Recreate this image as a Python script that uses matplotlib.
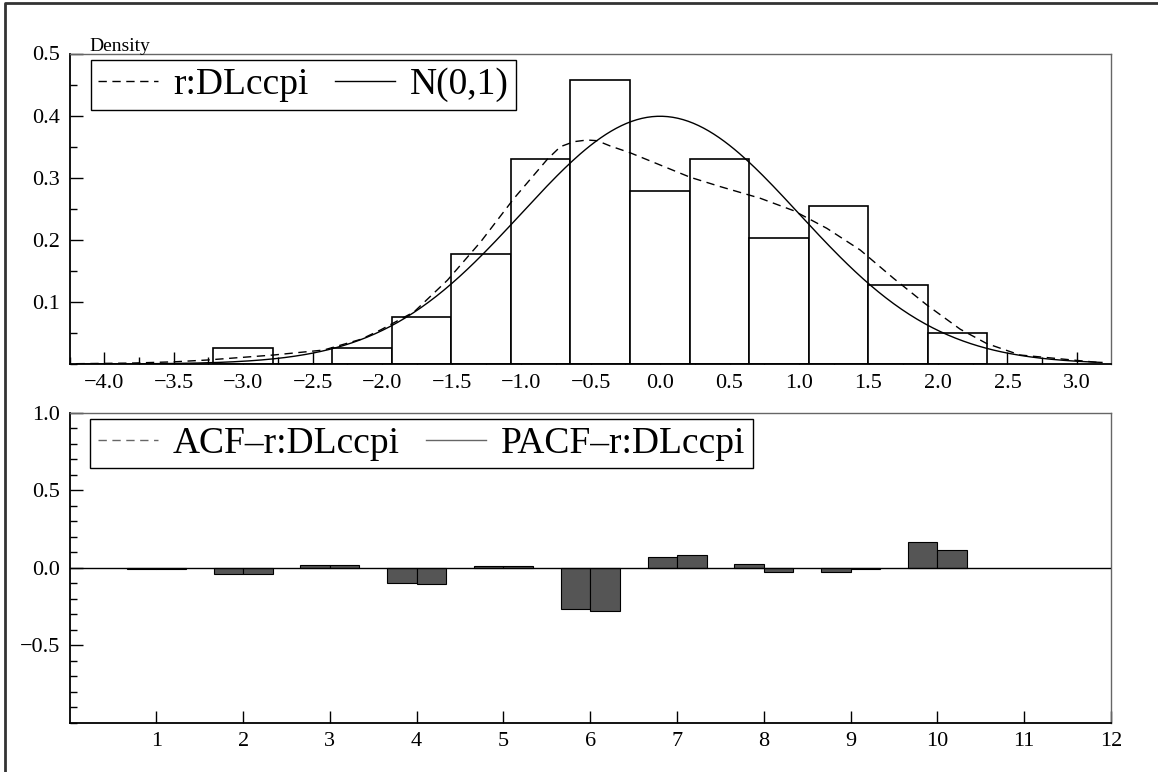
import numpy as np
import matplotlib
matplotlib.use("Agg")
import matplotlib.pyplot as plt
from matplotlib.lines import Line2D
from matplotlib.ticker import MultipleLocator, FixedLocator

plt.rcParams['font.family'] = ['Liberation Serif', 'DejaVu Serif']
plt.rcParams['axes.unicode_minus'] = True

# histogram of r:DLccpi (density scale)
bin_edges = [-3.216, -2.788, -2.359, -1.931, -1.502, -1.073, -0.645,
             -0.216, 0.212, 0.641, 1.069, 1.498, 1.926, 2.355]
bin_density = [0.0254, 0.0, 0.0254, 0.0761, 0.1776, 0.3298, 0.4566,
               0.2790, 0.3298, 0.2029, 0.2537, 0.1268, 0.0507]

# kernel density estimate (dashed)
kde_x = [-4.2, -3.8, -3.5, -3.26, -2.78, -2.42, -2.15, -2.01, -1.77, -1.53,
         -1.29, -1.05, -0.81, -0.717, -0.62, -0.525, -0.453, -0.358, -0.214,
         0.0, 0.218, 0.434, 0.722, 0.96, 1.2, 1.44, 1.68, 1.92, 2.16, 2.35,
         2.59, 2.97, 3.18]
kde_y = [0.0005, 0.0015, 0.0035, 0.0064, 0.0145, 0.0225, 0.040, 0.055,
         0.084, 0.135, 0.197, 0.267, 0.330, 0.350, 0.358, 0.3607, 0.3596,
         0.351, 0.340, 0.3205, 0.3006, 0.2856, 0.2668, 0.247, 0.2185,
         0.1836, 0.138, 0.095, 0.056, 0.033, 0.0145, 0.0064, 0.002]

# N(0,1) reference density over the same range
norm_x = np.linspace(-4.2, 3.18, 400)
norm_y = np.exp(-norm_x ** 2 / 2) / np.sqrt(2 * np.pi)

# correlogram
lags = [1, 2, 3, 4, 5, 6, 7, 8, 9, 10]
acf = [-0.011, -0.039, 0.017, -0.101, 0.013, -0.264, 0.068, 0.023, -0.026, 0.167]
pacf = [-0.011, -0.040, 0.017, -0.105, 0.012, -0.277, 0.079, -0.026, -0.007, 0.116]

W, H = 1158, 772
fig = plt.figure(figsize=(W / 100, H / 100), dpi=100)

# outer frame (top and left only)
fig.add_artist(Line2D([5 / W, 5 / W, 1.0], [0.0, 1 - 3 / H, 1 - 3 / H],
                      color='#333333', lw=2, transform=fig.transFigure))

ax1 = fig.add_axes([69.5 / W, 1 - 364 / H, 1041.5 / W, 310.5 / H])
ax2 = fig.add_axes([69.5 / W, 1 - 722.7 / H, 1041.5 / W, 310 / H])


def style_axes(ax):
    for s in ['left', 'bottom']:
        ax.spines[s].set_color('black')
        ax.spines[s].set_linewidth(1.3)
    for s in ['top', 'right']:
        ax.spines[s].set_color('#666666')
        ax.spines[s].set_linewidth(1.0)
    ax.tick_params(which='both', direction='in', top=False, right=False,
                   labelsize=16, pad=7, width=1, color='black')
    ax.tick_params(which='major', length=9)
    ax.tick_params(which='minor', length=5)


# ---- top: density
widths = np.diff(bin_edges)
ax1.bar(bin_edges[:-1], bin_density, width=widths, align='edge',
        facecolor='white', edgecolor='black', linewidth=1.2, zorder=2)
ax1.plot(kde_x, kde_y, color='black', lw=1.0, ls=(0, (6, 4)), zorder=3,
         label='r:DLccpi')
ax1.plot(norm_x, norm_y, color='black', lw=1.0, zorder=3, label='N(0,1)')
ax1.set_xlim(-4.25, 3.245)
ax1.set_ylim(0, 0.5)
ax1.xaxis.set_major_locator(FixedLocator(np.arange(-4.0, 3.01, 0.5)))
ax1.xaxis.set_minor_locator(MultipleLocator(0.25))
ax1.yaxis.set_major_locator(FixedLocator([0.1, 0.2, 0.3, 0.4, 0.5]))
ax1.yaxis.set_minor_locator(MultipleLocator(0.05))
ax1.xaxis.set_major_formatter(plt.FuncFormatter(lambda v, p: f"{v:.1f}".replace('-', '\u2212')))
ax1.yaxis.set_major_formatter(plt.FuncFormatter(lambda v, p: f"{v:.1f}"))
style_axes(ax1)
ax1.text(0.0187, 1.008, 'Density', transform=ax1.transAxes, fontsize=14,
         ha='left', va='baseline')
leg1 = ax1.legend(loc='upper left', bbox_to_anchor=(0.0203, 0.979), ncol=2,
                  fontsize=27, frameon=True, fancybox=False, edgecolor='black',
                  framealpha=1, borderpad=0.2, borderaxespad=0, handlelength=1.6,
                  handletextpad=0.4, columnspacing=0.7)
leg1.get_frame().set_linewidth(1.0)

# ---- bottom: ACF / PACF
bw = 0.34
ax2.bar(np.array(lags) - bw / 2, acf, width=bw, facecolor='#555555',
        edgecolor='black', linewidth=0.8, zorder=2)
ax2.bar(np.array(lags) + bw / 2, pacf, width=bw, facecolor='#555555',
        edgecolor='black', linewidth=0.8, zorder=2)
ax2.axhline(0, color='black', lw=1.0, zorder=3)
ax2.set_xlim(0, 12)
ax2.set_ylim(-1, 1)
ax2.xaxis.set_major_locator(FixedLocator(range(1, 13)))
ax2.yaxis.set_major_locator(FixedLocator([-0.5, 0.0, 0.5, 1.0]))
ax2.yaxis.set_minor_locator(MultipleLocator(0.1))
ax2.yaxis.set_major_formatter(plt.FuncFormatter(lambda v, p: f"{v:.1f}".replace('-', '\u2212')))
style_axes(ax2)
ax2.tick_params(axis='x', which='minor', length=0)
h_acf = Line2D([], [], color='#666666', lw=1.0, ls=(0, (6, 4)))
h_pacf = Line2D([], [], color='#666666', lw=1.0)
leg2 = ax2.legend([h_acf, h_pacf], ['ACF\u2013r:DLccpi', 'PACF\u2013r:DLccpi'],
                  loc='upper left', bbox_to_anchor=(0.0197, 0.98), ncol=2,
                  fontsize=27, frameon=True, fancybox=False, edgecolor='black',
                  framealpha=1, borderpad=0.2, borderaxespad=0, handlelength=1.6,
                  handletextpad=0.4, columnspacing=0.7)
leg2.get_frame().set_linewidth(1.0)

fig.savefig('out.png', dpi=100)
